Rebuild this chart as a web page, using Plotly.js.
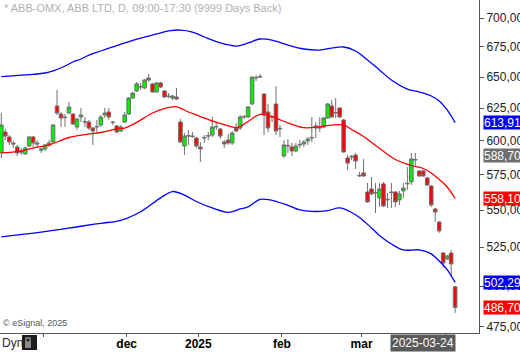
<!DOCTYPE html>
<html><head><meta charset="utf-8">
<script src="https://cdn.plot.ly/plotly-3.0.1.min.js"></script>
<style>html,body{margin:0;padding:0;background:#fff;overflow:hidden}#chart{width:520px;height:352px}</style>
</head><body><div id="chart"></div>
<script>
const dates = [
'2024-10-17','2024-10-18','2024-10-21','2024-10-22','2024-10-23','2024-10-24','2024-10-25','2024-10-28','2024-10-29','2024-10-30','2024-10-31',
'2024-11-01','2024-11-04','2024-11-05','2024-11-06','2024-11-07','2024-11-08','2024-11-11','2024-11-12','2024-11-13','2024-11-14','2024-11-15','2024-11-18','2024-11-19','2024-11-20','2024-11-21','2024-11-22','2024-11-25','2024-11-26','2024-11-27','2024-11-28','2024-11-29',
'2024-12-02','2024-12-03','2024-12-04','2024-12-05','2024-12-06','2024-12-09','2024-12-10','2024-12-11','2024-12-12','2024-12-13','2024-12-16','2024-12-17','2024-12-18','2024-12-19','2024-12-20','2024-12-23','2024-12-27','2024-12-30',
'2025-01-02','2025-01-03','2025-01-07','2025-01-08','2025-01-09','2025-01-10','2025-01-13','2025-01-14','2025-01-15','2025-01-16','2025-01-17','2025-01-20','2025-01-21','2025-01-22','2025-01-23','2025-01-24','2025-01-27','2025-01-28','2025-01-29','2025-01-30','2025-01-31',
'2025-02-03','2025-02-04','2025-02-05','2025-02-06','2025-02-07','2025-02-10','2025-02-11','2025-02-12','2025-02-13','2025-02-14','2025-02-17','2025-02-18','2025-02-19','2025-02-20','2025-02-21','2025-02-24','2025-02-25','2025-02-26','2025-02-27','2025-02-28',
'2025-03-03','2025-03-04','2025-03-05','2025-03-06','2025-03-07','2025-03-10','2025-03-11','2025-03-12','2025-03-13','2025-03-14','2025-03-17','2025-03-18','2025-03-19','2025-03-20','2025-03-21','2025-03-24','2025-03-25','2025-03-26','2025-03-27','2025-03-28','2025-03-31',
'2025-04-01','2025-04-02','2025-04-03'];

const open = [590.9,606.7,602.9,598.4,595.4,592.4,590.2,596.1,602.9,598.4,593.9,
593.9,596.9,599.1,626.8,620.5,618.2,621.3,620.5,610.5,618.2,614.7,614.3,609.7,610.5,612.0,619.8,622.1,614.3,611.3,607.4,614.3,
620.5,633.1,638.7,641.9,641.1,649.2,644.4,637.9,645.2,638.7,634.7,633.1,633.9,614.3,596.1,603.6,603.6,602.1,
595.4,602.1,603.6,604.4,610.5,609.0,599.1,600.6,598.4,609.7,609.7,618.2,618.2,628.4,649.2,650.0,636.3,622.1,618.2,628.4,609.0,
588.7,596.1,595.4,592.4,596.9,597.6,599.9,602.1,609.7,609.7,610.5,617.4,626.8,621.3,625.2,615.9,587.2,587.9,589.4,574.1,
576.3,562.7,564.8,562.0,558.5,568.4,557.1,562.7,562.7,557.1,563.4,568.4,569.8,585.7,577.7,577.7,572.7,566.9,550.8,541.9,521.2,
517.3,521.2,499.5];
const high = [621.3,609.0,604.4,599.9,596.9,594.6,595.4,603.6,603.6,600.6,594.6,
597.6,600.6,612.8,639.5,622.1,620.5,630.0,621.3,617.4,625.2,618.2,615.9,610.5,615.9,619.8,625.2,625.2,615.1,612.0,612.0,622.1,
633.5,637.9,646.0,645.2,648.4,652.5,645.2,646.0,646.0,639.5,637.1,635.5,641.1,616.7,605.9,608.2,606.7,602.9,
599.1,604.4,606.7,618.2,614.3,609.7,600.6,605.2,607.4,613.5,619.8,619.8,626.8,650.4,651.7,652.5,637.1,628.4,619.8,642.7,612.0,
600.6,601.4,598.4,598.4,600.6,600.6,602.9,618.2,614.3,618.2,618.2,629.2,631.5,633.1,626.0,616.7,589.4,589.4,590.9,577.0,
586.5,569.1,573.4,569.1,569.1,569.8,562.0,569.1,563.4,563.4,569.1,580.6,590.9,590.9,578.4,578.4,573.4,567.6,551.5,542.6,521.9,
520.0,523.2,500.1];
const low = [587.2,600.6,596.9,594.6,588.7,589.4,589.4,595.4,595.4,594.6,590.9,
592.4,595.4,598.4,619.8,610.5,610.5,620.5,612.0,608.2,614.3,610.5,608.2,596.9,606.7,610.5,617.4,615.9,612.0,605.9,606.7,613.5,
619.8,632.3,637.9,639.5,640.3,646.0,637.5,637.5,641.1,633.1,633.1,631.5,631.5,598.4,589.4,596.9,602.1,594.6,
584.3,598.4,600.6,602.9,608.2,601.4,594.6,596.9,596.9,606.7,608.2,616.7,617.4,627.6,646.8,649.2,604.4,606.7,614.3,604.4,602.9,
587.2,590.9,588.7,591.6,594.6,595.4,596.9,599.1,602.1,606.7,609.7,616.7,617.4,617.4,617.4,591.2,578.4,585.7,579.2,573.4,
573.4,555.0,560.6,548.0,552.2,552.2,551.5,551.5,552.2,553.6,558.5,564.1,567.6,581.3,573.4,573.4,566.9,552.2,541.9,534.5,511.5,
516.7,505.8,483.4];
const close = [612.0,603.6,599.1,597.6,590.9,591.6,594.6,602.9,598.4,597.6,593.1,
596.9,598.4,612.0,621.3,617.4,617.8,626.0,612.8,616.7,619.8,614.3,609.7,607.4,610.9,618.2,621.3,618.2,614.0,606.7,610.5,619.8,
633.1,637.1,644.4,642.3,647.6,647.6,637.9,645.2,641.9,633.9,634.3,634.7,632.3,599.1,603.6,603.9,603.3,596.1,
593.9,602.5,603.9,610.5,610.9,603.6,597.6,598.4,605.9,607.4,618.2,618.6,626.0,650.0,649.6,650.4,619.8,609.7,618.6,607.4,609.4,
596.9,596.5,592.4,596.1,597.3,599.1,601.4,602.5,611.3,610.1,617.4,628.4,618.2,621.7,618.2,591.6,583.5,588.3,585.0,574.5,
574.1,555.7,561.3,562.3,564.8,552.9,557.5,562.3,555.7,561.3,565.5,568.8,586.5,586.1,574.1,574.1,567.6,553.6,548.7,535.8,514.7,
519.3,514.1,486.70];

// Bollinger-style bands (bar index, price)
const upperIdx = [0,6,11,13,16,18,20,22,25,28,31,35,39,42,45,48,51,55,59,62,65,68,72,76,80,83,86,89,92,95,98,102,105,108,110,112,114];
const upperVal = [650.3,651.7,653.3,655.0,659.1,662.4,664.9,668.2,671.6,675.0,678.4,682.6,686.1,688.7,689.5,687.8,683.5,678.4,675.8,678.4,681.8,680.9,676.6,673.3,672.4,674.1,675.0,671.6,664.1,655.8,647.6,640.3,637.9,634.7,630.8,623.7,613.915];
const midIdx = [0,4,8,12,17,21,25,29,31,34,38,41,44,47,49,52,55,59,60,62,65,68,72,76,80,83,86,88,91,95,99,103,106,108,110,112,114];
const midVal = [591.1,591.9,594.6,596.9,602.5,604.7,606.3,609.0,609.7,614.0,621.3,624.8,626.2,622.1,619.8,616.3,613.2,610.0,610.9,614.7,620.3,618.5,613.6,610.0,610.8,612.0,612.0,608.6,603.3,594.4,586.1,581.7,579.5,576.3,571.6,566.2,558.105];
const lowerIdx = [0,10,20,25,30,35,40,43,46,49,53,57,60,62,65,68,72,75,78,82,85,88,90,93,95,98,101,105,108,110,112,114];
const lowerVal = [531.8,535.0,539.0,541.0,543.0,548.9,558.5,563.0,560.5,556.0,551.5,548.5,550.8,552.2,557.5,556.8,553.3,550.1,549.1,549.7,551.5,548.4,545.0,537.8,532.8,527.1,523.2,523.2,520.6,516.0,510.5,502.294];

const priceTicks = [475,500,525,550,575,600,625,650,675,700];
const monthTickText = ['', '<b>dec</b>', '<b>2025</b>', '<b>feb</b>', '<b>mar</b>', ''];
const labelValues = [613.915, 588.704, 558.105, 502.294, 486.70];
const labelTexts = ['613,915','588,704','558,105','502,294','486,70'];
const labelColors = ['#0000f0','#6e6e6e','#ff0000','#0000f0','#ff0000'];
const cursorDate = '2025-03-24';

const idx = dates.map((d,i)=>i);
const monthStarts = [];
dates.forEach((d,i)=>{ if(i>0 && d.slice(0,7)!==dates[i-1].slice(0,7)) monthStarts.push(i-0.5); });

const plotW = 479, plotH = 333;
const xRange = [-0.33, 120];
const px2x = p => xRange[0] + p*(xRange[1]-xRange[0])/plotW;
const pxX = p => p/plotW;
const pxY = p => (plotH - p)/plotH;

const traces = [
 {type:'scatter', mode:'lines', x:upperIdx, y:upperVal, line:{color:'#0000ff', width:1.3, shape:'spline', smoothing:1}, hoverinfo:'skip'},
 {type:'scatter', mode:'lines', x:lowerIdx, y:lowerVal, line:{color:'#0000ff', width:1.3, shape:'spline', smoothing:1}, hoverinfo:'skip'},
 {type:'scatter', mode:'lines', x:midIdx, y:midVal, line:{color:'#ff0000', width:1.3, shape:'spline', smoothing:1}, hoverinfo:'skip'},
 {type:'candlestick', x:idx, open:open, high:high, low:low, close:close, whiskerwidth:0,
  increasing:{line:{color:'#707070', width:1}, fillcolor:'#00f000'},
  decreasing:{line:{color:'#707070', width:1}, fillcolor:'#ff0000'}, hoverinfo:'skip'},
 {type:'scatter', mode:'markers', x:labelValues.map(()=>px2x(485.5)), y:labelValues, cliponaxis:false,
  marker:{symbol:'triangle-left', size:10, color:labelColors, line:{width:0}}, hoverinfo:'skip'}
];

const annotations = [
 {xref:'paper', yref:'paper', x:pxX(2), y:pxY(8), xanchor:'left', yanchor:'middle', showarrow:false,
  text:'* ABB-OMX, ABB LTD, D, 09:00-17:30 (9999 Days Back)', font:{size:11, color:'#b0b0b0'}},
 {xref:'paper', yref:'paper', x:pxX(1), y:pxY(323), xanchor:'left', yanchor:'middle', showarrow:false,
  text:'© eSignal, 2025', font:{size:9, color:'#555'}},
 {xref:'paper', yref:'paper', x:pxX(0), y:pxY(343), xanchor:'left', yanchor:'middle', showarrow:false,
  text:'Dyn', font:{size:12, color:'#2a2a3a'}},
 {xref:'x', yref:'paper', x:dates.indexOf(cursorDate), y:pxY(343), xanchor:'center', yanchor:'middle', showarrow:false,
  text:cursorDate, bgcolor:'#5a5a5a', borderpad:1, font:{size:12, color:'#ffffff'}}
];
labelValues.forEach((v,i)=>{
 annotations.push({xref:'paper', yref:'y', x:pxX(482.5), y:Math.log10(v), xanchor:'left', yanchor:'middle',
  showarrow:false, text:labelTexts[i], bgcolor:labelColors[i], borderpad:0, width:44, height:13, align:'left',
  font:{size:12, color:'#ffffff'}});
});

const shapes = [
 {type:'rect', xref:'paper', yref:'paper', x0:pxX(22), x1:pxX(37), y0:pxY(350), y1:pxY(335), fillcolor:'#1c1c1c', line:{width:0}},
 {type:'rect', xref:'paper', yref:'paper', x0:pxX(25), x1:pxX(31), y0:pxY(348), y1:pxY(342), fillcolor:'#8a8a8a', line:{width:0}},
 {type:'rect', xref:'paper', yref:'paper', x0:pxX(26), x1:pxX(30), y0:pxY(342), y1:pxY(338), line:{color:'#8a8a8a', width:1.5}}
];

const layout = {
 width:520, height:352, autosize:false,
 margin:{l:0, r:41, t:0, b:19, pad:0},
 paper_bgcolor:'#ffffff', plot_bgcolor:'#ffffff',
 showlegend:false, separators:',.', boxgap:0.1, boxgroupgap:0,
 font:{family:'Arial, "Liberation Sans", sans-serif', size:12, color:'#222'},
 xaxis:{range:xRange, rangeslider:{visible:false}, showgrid:false, zeroline:false,
  tickmode:'array', tickvals:monthStarts, ticktext:monthTickText, ticks:'outside', ticklen:3, tickcolor:'#555',
  ticklabelstandoff:-3,
  showline:true, linecolor:'#555', linewidth:1, tickfont:{size:12, color:'#000'}, fixedrange:true},
 yaxis:{type:'log', side:'right', range:[Math.log10(471.4), Math.log10(716)], showgrid:false, zeroline:false,
  tickmode:'array', tickvals:priceTicks, tickformat:'.2f', ticks:'outside', ticklen:4, tickcolor:'#555',
  showline:true, linecolor:'#555', linewidth:1, tickfont:{size:12, color:'#222'}, fixedrange:true},
 annotations:annotations, shapes:shapes
};

Plotly.newPlot('chart', traces, layout, {staticPlot:true, displayModeBar:false});
</script></body></html>
